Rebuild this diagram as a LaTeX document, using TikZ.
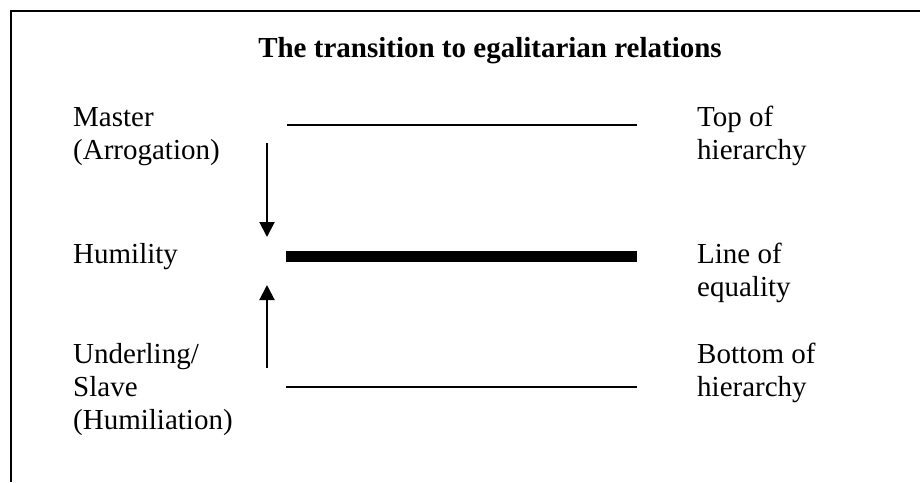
\documentclass[tikz,border=0pt]{standalone}
\usepackage{fontspec}
\setmainfont{Liberation Serif}
\usetikzlibrary{arrows.meta}
\tikzset{
  lbl/.style={anchor=base west, inner sep=0pt, align=left, font=\fontsize{29}{33}\selectfont},
  ttl/.style={anchor=base, inner sep=0pt, font=\fontsize{29}{33}\selectfont\bfseries},
  frame/.style={line width=2pt},
  thinline/.style={line width=2pt},
  thickline/.style={line width=11pt},
  arr/.style={line width=2pt, -{Triangle[width=15pt,length=15pt]}, shorten >=0pt}
}
\begin{document}
\begin{tikzpicture}[x=1pt,y=-1pt]
\useasboundingbox (0,0) rectangle (920,482);
\draw[frame] (920,11) -- (11,11) -- (11,482);
\node[ttl] (title) at (490,57) {The transition to egalitarian relations};
% base anchor = baseline of the last line
\node[lbl] (master) at (73,159) {Master\\(Arrogation)};
\node[lbl] (humility) at (73,263) {Humility};
\node[lbl] (under) at (73,429) {Underling/\\Slave\\(Humiliation)};
\node[lbl] (top) at (697,159) {Top of\\hierarchy};
\node[lbl] (equal) at (697,296) {Line of\\equality};
\node[lbl] (bottom) at (697,396) {Bottom of\\hierarchy};
\coordinate (t1) at (287,125); \coordinate (t2) at (637,125);
\coordinate (m1) at (286,256.5); \coordinate (m2) at (637,256.5);
\coordinate (b1) at (286,386.5); \coordinate (b2) at (637,386.5);
\draw[thinline] (t1) -- (t2);
\draw[thickline] (m1) -- (m2);
\draw[thinline] (b1) -- (b2);
\coordinate (d1) at (267,143); \coordinate (d2) at (267,237);
\coordinate (u1) at (267,368); \coordinate (u2) at (267,285);
\draw[arr] (d1) -- (d2);
\draw[arr] (u1) -- (u2);
\end{tikzpicture}
\end{document}
